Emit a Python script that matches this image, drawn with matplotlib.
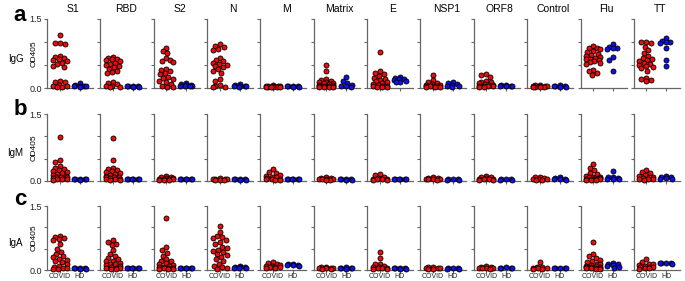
import numpy as np
import matplotlib
matplotlib.use('Agg')
import matplotlib.pyplot as plt

plt.rcParams['font.family'] = ['Liberation Sans', 'DejaVu Sans']

antigens = ['S1', 'RBD', 'S2', 'N', 'M', 'Matrix', 'E', 'NSP1', 'ORF8', 'Control', 'Flu', 'TT']
isotypes = ['IgG', 'IgM', 'IgA']
panel_letters = ['a', 'b', 'c']
groups = ['COVID', 'HD']

igg_covid = [
    [1.15, 0.98, 0.95, 0.97, 0.70, 0.68, 0.65, 0.62, 0.60, 0.58, 0.55, 0.52, 0.48, 0.45, 0.15, 0.12, 0.12, 0.06, 0.05, 0.04, 0.03, 0.03],
    [0.68, 0.66, 0.64, 0.62, 0.60, 0.58, 0.55, 0.52, 0.50, 0.48, 0.45, 0.42, 0.38, 0.35, 0.32, 0.12, 0.10, 0.08, 0.05, 0.04, 0.03, 0.03],
    [0.88, 0.80, 0.76, 0.66, 0.60, 0.58, 0.56, 0.42, 0.40, 0.36, 0.33, 0.30, 0.25, 0.22, 0.20, 0.16, 0.12, 0.08, 0.05, 0.03, 0.03],
    [0.95, 0.92, 0.90, 0.85, 0.82, 0.66, 0.60, 0.58, 0.55, 0.52, 0.50, 0.48, 0.45, 0.42, 0.38, 0.33, 0.20, 0.15, 0.06, 0.04, 0.03, 0.03],
    [0.06, 0.05, 0.05, 0.04, 0.04, 0.04, 0.03, 0.03, 0.03, 0.03, 0.03, 0.03],
    [0.50, 0.38, 0.20, 0.18, 0.15, 0.14, 0.12, 0.10, 0.10, 0.08, 0.07, 0.06, 0.05, 0.05, 0.04, 0.04, 0.03, 0.03, 0.03, 0.03],
    [0.79, 0.36, 0.32, 0.30, 0.26, 0.22, 0.20, 0.18, 0.15, 0.12, 0.10, 0.08, 0.06, 0.05, 0.04, 0.04, 0.03, 0.03, 0.03],
    [0.28, 0.17, 0.12, 0.10, 0.08, 0.07, 0.06, 0.05, 0.05, 0.04, 0.04, 0.03, 0.03, 0.03],
    [0.30, 0.28, 0.23, 0.15, 0.14, 0.12, 0.10, 0.08, 0.07, 0.06, 0.05, 0.05, 0.04, 0.04, 0.03, 0.03],
    [0.07, 0.06, 0.05, 0.05, 0.04, 0.04, 0.03, 0.03, 0.03, 0.03],
    [0.92, 0.88, 0.86, 0.84, 0.80, 0.78, 0.75, 0.72, 0.70, 0.68, 0.66, 0.64, 0.62, 0.60, 0.58, 0.56, 0.55, 0.52, 0.40, 0.36, 0.32, 0.28],
    [1.00, 0.99, 0.97, 0.90, 0.82, 0.76, 0.70, 0.66, 0.62, 0.60, 0.58, 0.55, 0.52, 0.50, 0.48, 0.46, 0.44, 0.38, 0.22, 0.20, 0.18, 0.16],
]
igg_hd = [
    [0.10, 0.06, 0.05, 0.05, 0.04, 0.04, 0.03],
    [0.05, 0.04, 0.04, 0.04, 0.03, 0.03],
    [0.10, 0.08, 0.07, 0.06, 0.05, 0.05, 0.04, 0.04],
    [0.08, 0.06, 0.05, 0.05, 0.04, 0.04, 0.03],
    [0.05, 0.04, 0.04, 0.04, 0.03, 0.03],
    [0.23, 0.15, 0.10, 0.07, 0.05, 0.04, 0.03],
    [0.25, 0.22, 0.20, 0.20, 0.18, 0.16, 0.14, 0.12],
    [0.14, 0.10, 0.08, 0.06, 0.05, 0.04, 0.03],
    [0.07, 0.06, 0.05, 0.05, 0.04, 0.04],
    [0.06, 0.05, 0.04, 0.04, 0.03, 0.03],
    [0.95, 0.90, 0.88, 0.87, 0.85, 0.67, 0.61, 0.38],
    [1.08, 1.03, 1.01, 1.00, 0.98, 0.86, 0.60, 0.48],
]
igm_covid = [
    [0.99, 0.47, 0.42, 0.33, 0.30, 0.26, 0.24, 0.22, 0.20, 0.18, 0.16, 0.14, 0.12, 0.10, 0.09, 0.08, 0.06, 0.05, 0.04, 0.04, 0.03],
    [0.97, 0.47, 0.30, 0.27, 0.24, 0.22, 0.20, 0.18, 0.16, 0.14, 0.12, 0.10, 0.09, 0.08, 0.06, 0.05, 0.05, 0.04, 0.03, 0.03],
    [0.12, 0.10, 0.08, 0.07, 0.06, 0.05, 0.05, 0.04, 0.04, 0.03, 0.03, 0.03],
    [0.06, 0.05, 0.05, 0.04, 0.04, 0.03, 0.03, 0.03],
    [0.26, 0.20, 0.17, 0.14, 0.12, 0.10, 0.08, 0.06, 0.05, 0.04, 0.04, 0.03, 0.03],
    [0.08, 0.07, 0.06, 0.05, 0.05, 0.04, 0.04, 0.03, 0.03],
    [0.15, 0.14, 0.08, 0.06, 0.05, 0.05, 0.04, 0.04, 0.03, 0.03],
    [0.08, 0.07, 0.06, 0.05, 0.05, 0.04, 0.04, 0.03],
    [0.12, 0.10, 0.08, 0.06, 0.05, 0.05, 0.04, 0.04, 0.03, 0.03],
    [0.10, 0.08, 0.06, 0.05, 0.04, 0.04, 0.03, 0.03],
    [0.37, 0.29, 0.24, 0.18, 0.15, 0.12, 0.10, 0.09, 0.08, 0.07, 0.06, 0.05, 0.05, 0.04, 0.04, 0.03, 0.03, 0.03],
    [0.25, 0.20, 0.17, 0.14, 0.12, 0.10, 0.08, 0.06, 0.05, 0.04, 0.04, 0.03],
]
igm_hd = [
    [0.05, 0.05, 0.04, 0.04, 0.04, 0.03],
    [0.04, 0.04, 0.04, 0.04, 0.04, 0.04],
    [0.04, 0.04, 0.04, 0.04, 0.04, 0.04],
    [0.05, 0.05, 0.04, 0.04, 0.03, 0.03],
    [0.04, 0.04, 0.04, 0.04, 0.04, 0.04],
    [0.05, 0.05, 0.04, 0.04, 0.03, 0.03],
    [0.04, 0.04, 0.04, 0.04, 0.04, 0.04],
    [0.05, 0.04, 0.04, 0.03, 0.03],
    [0.05, 0.04, 0.04, 0.03, 0.03],
    [0.08, 0.06, 0.05, 0.04, 0.04, 0.03],
    [0.22, 0.10, 0.08, 0.06, 0.05, 0.04, 0.04],
    [0.12, 0.10, 0.08, 0.06, 0.05, 0.04],
]
iga_covid = [
    [0.80, 0.78, 0.76, 0.72, 0.70, 0.60, 0.50, 0.42, 0.38, 0.32, 0.30, 0.26, 0.24, 0.20, 0.18, 0.14, 0.10, 0.08, 0.05, 0.04, 0.03, 0.03],
    [0.70, 0.66, 0.62, 0.58, 0.47, 0.38, 0.33, 0.28, 0.25, 0.22, 0.20, 0.17, 0.15, 0.13, 0.11, 0.09, 0.07, 0.05, 0.04, 0.04, 0.03, 0.03],
    [1.22, 0.53, 0.46, 0.40, 0.33, 0.25, 0.22, 0.20, 0.17, 0.14, 0.12, 0.10, 0.08, 0.06, 0.05, 0.04, 0.04, 0.03, 0.03, 0.03],
    [1.02, 0.90, 0.80, 0.78, 0.75, 0.70, 0.65, 0.60, 0.55, 0.52, 0.48, 0.45, 0.42, 0.38, 0.35, 0.30, 0.25, 0.20, 0.15, 0.10, 0.06, 0.04, 0.03],
    [0.18, 0.16, 0.14, 0.12, 0.10, 0.10, 0.08, 0.07, 0.06, 0.05, 0.04],
    [0.07, 0.06, 0.05, 0.05, 0.04, 0.04, 0.03, 0.03],
    [0.42, 0.27, 0.15, 0.13, 0.10, 0.08, 0.06, 0.05, 0.05, 0.04, 0.03, 0.03],
    [0.07, 0.06, 0.05, 0.04, 0.04, 0.03, 0.03],
    [0.09, 0.07, 0.06, 0.05, 0.05, 0.04, 0.04, 0.03],
    [0.18, 0.08, 0.06, 0.05, 0.04, 0.04, 0.03, 0.03],
    [0.65, 0.38, 0.32, 0.28, 0.24, 0.20, 0.18, 0.15, 0.13, 0.11, 0.10, 0.09, 0.08, 0.07, 0.06, 0.05, 0.05, 0.04, 0.04, 0.03, 0.03],
    [0.25, 0.18, 0.15, 0.13, 0.11, 0.10, 0.08, 0.07, 0.06, 0.05, 0.04, 0.03],
]
iga_hd = [
    [0.05, 0.04, 0.04, 0.04, 0.03, 0.03],
    [0.04, 0.04, 0.04, 0.04, 0.04, 0.04],
    [0.04, 0.04, 0.04, 0.04, 0.04, 0.04],
    [0.10, 0.08, 0.07, 0.06, 0.05, 0.05, 0.04],
    [0.14, 0.13, 0.12, 0.12, 0.11, 0.10],
    [0.06, 0.05, 0.05, 0.04, 0.04, 0.03],
    [0.05, 0.05, 0.04, 0.04, 0.03, 0.03],
    [0.05, 0.04, 0.04, 0.03, 0.03],
    [0.06, 0.05, 0.05, 0.04, 0.04],
    [0.04, 0.04, 0.04, 0.04, 0.04],
    [0.17, 0.15, 0.13, 0.11, 0.09, 0.07, 0.05],
    [0.17, 0.17, 0.16, 0.16, 0.15],
]

covid_data = [igg_covid, igm_covid, iga_covid]
hd_data = [igg_hd, igm_hd, iga_hd]

RED = '#f00a0a'
BLUE = '#1010ee'
SPINE = '#666666'

W_PX, H_PX = 685, 281
fig = plt.figure(figsize=(W_PX / 100, H_PX / 100), dpi=100)
rows_px = [(19, 88), (114, 181), (206, 270)]
left0, step, width = 47, 53.35, 46
XLIM = (-0.625, 1.675)
YLIM = (0.0, 1.5)
D_PX = 4.8
MAXW_PX = [7.0, 6.0]


def swarm_offsets(vals, ax_w_px, ax_h_px, maxw):
    """Beeswarm-style horizontal offsets (data units) computed from values."""
    vals = np.asarray(vals, float)
    xpp = (XLIM[1] - XLIM[0]) / ax_w_px
    ypix = vals / (YLIM[1] - YLIM[0]) * ax_h_px
    order = np.argsort(-ypix, kind='stable')
    cands = np.arange(-maxw, maxw + 0.01, 0.5)
    cands = cands[np.argsort(np.abs(cands), kind='stable')]
    placed = []
    offs = np.zeros(len(vals))
    for i in order:
        best_c, best_cost = 0.0, None
        for c in cands:
            cost = 0.0
            for (px, py) in placed:
                dist = np.hypot(px - c, py - ypix[i])
                if dist < D_PX:
                    cost += D_PX - dist
            if best_cost is None or cost < best_cost - 1e-9:
                best_c, best_cost = c, cost
            if cost == 0:
                break
        placed.append((best_c, ypix[i]))
        offs[i] = best_c * xpp
    return offs


for r, iso in enumerate(isotypes):
    top, bot = rows_px[r]
    for c, ag in enumerate(antigens):
        lx = left0 + step * c
        ax = fig.add_axes([lx / W_PX, 1 - bot / H_PX, width / W_PX, (bot - top) / H_PX])
        ax_h = bot - top
        for g, (vals, col) in enumerate([(covid_data[r][c], RED), (hd_data[r][c], BLUE)]):
            offs = swarm_offsets(vals, width, ax_h, MAXW_PX[g])
            ax.scatter(g + offs, vals, s=13, c=col, edgecolors='black',
                       linewidths=0.6, clip_on=False, zorder=3)
        ax.set_xlim(*XLIM)
        ax.set_ylim(*YLIM)
        for sp in ['top', 'right']:
            ax.spines[sp].set_visible(False)
        for sp in ['left', 'bottom']:
            ax.spines[sp].set_color(SPINE)
            ax.spines[sp].set_linewidth(0.9)
        ax.set_yticks([0, 0.5, 1.0, 1.5])
        if c == 0:
            ax.set_yticklabels(['0.0', '', '', '1.5'])
        else:
            ax.set_yticklabels([])
        ax.set_xticks([0, 1])
        if r == 2:
            ax.set_xticklabels(groups, fontsize=5)
        else:
            ax.set_xticklabels([])
        ax.tick_params(axis='both', direction='out', length=2.5, width=0.8,
                       color=SPINE, labelsize=6.5, pad=1, labelcolor='#222222')
        ax.tick_params(axis='x', labelsize=5, pad=0.5, length=2)
        if r == 0:
            ax.text(0.56, 1.07, ag, transform=ax.transAxes, ha='center',
                    va='bottom', fontsize=7.5)
    fig.text(15.5 / W_PX, 1 - ((top + bot) / 2 + 5) / H_PX, iso, ha='center',
             va='center', fontsize=7)
    fig.text(34 / W_PX, 1 - ((top + bot) / 2) / H_PX, 'OD405', rotation=90,
             ha='center', va='center', fontsize=6)
    fig.text(20 / W_PX, 1 - [21, 115, 205][r] / H_PX, panel_letters[r],
             ha='center', va='baseline', fontsize=16, fontweight='bold')

fig.savefig('out.png', dpi=100)
